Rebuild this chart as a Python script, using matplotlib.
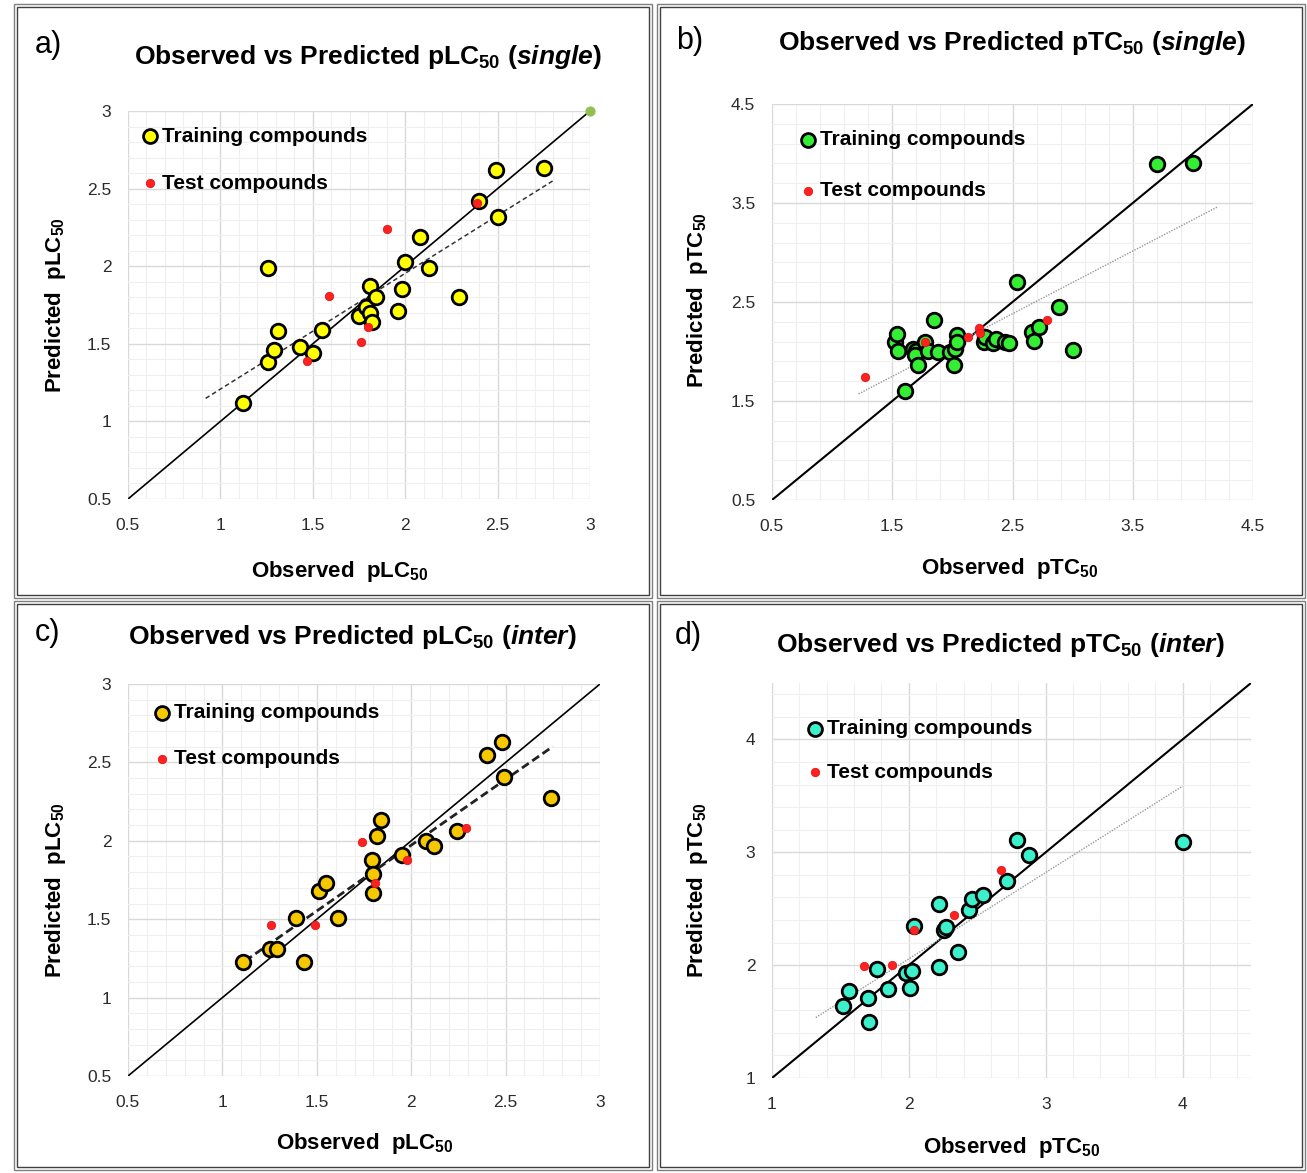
import numpy as np
import matplotlib
matplotlib.use('Agg')
import matplotlib.pyplot as plt
from matplotlib import font_manager
from matplotlib.ticker import FixedLocator, FuncFormatter
from matplotlib.patches import Rectangle

names = {f.name for f in font_manager.fontManager.ttflist}
narrow = 'Liberation Sans Narrow' if 'Liberation Sans Narrow' in names else 'Liberation Sans'

plt.rcParams['font.family'] = ['Liberation Sans', 'DejaVu Sans']
plt.rcParams['mathtext.fontset'] = 'custom'
plt.rcParams['mathtext.default'] = 'regular'
plt.rcParams['mathtext.it'] = narrow + ':italic:bold'

# ---- data ----
# a) pLC50 single
a_train_x = [1.12, 1.26, 1.26, 1.29, 1.31, 1.43, 1.50, 1.55, 1.75, 1.79, 1.81, 1.81,
             1.82, 1.84, 1.96, 1.98, 2.00, 2.08, 2.13, 2.29, 2.40, 2.49, 2.50, 2.75]
a_train_y = [1.12, 1.38, 1.99, 1.46, 1.58, 1.48, 1.44, 1.59, 1.68, 1.74, 1.87, 1.70,
             1.64, 1.80, 1.71, 1.85, 2.03, 2.19, 1.99, 1.80, 2.42, 2.62, 2.32, 2.63]
a_test_x = [1.47, 1.59, 1.76, 1.80, 1.90, 2.39]
a_test_y = [1.39, 1.81, 1.51, 1.61, 2.24, 2.41]
a_extra_x = [3.0]
a_extra_y = [3.0]
a_trend = [0.92, 2.80, 0.746, 0.462]   # x from, x to, slope, intercept
a_ticks = [0.5, 1.0, 1.5, 2.0, 2.5, 3.0]

# b) pTC50 single
b_train_x = [1.52, 1.54, 1.55, 1.61, 1.67, 1.70, 1.69, 1.71, 1.77, 1.80, 1.85, 1.88,
             1.98, 2.01, 2.02, 2.04, 2.04, 2.26, 2.27, 2.34, 2.36, 2.44, 2.47, 2.54,
             2.66, 2.68, 2.72, 2.89, 3.00, 3.70, 4.00]
b_train_y = [2.10, 2.18, 2.01, 1.60, 2.03, 2.00, 1.96, 1.86, 2.10, 2.01, 2.32, 1.99,
             1.99, 1.86, 2.03, 2.17, 2.10, 2.10, 2.15, 2.09, 2.13, 2.10, 2.09, 2.70,
             2.20, 2.11, 2.25, 2.45, 2.02, 3.89, 3.90]
b_test_x = [1.27, 1.77, 2.13, 2.22, 2.23, 2.79]
b_test_y = [1.74, 2.10, 2.15, 2.24, 2.19, 2.32]
b_trend = [1.22, 4.21, 0.633, 0.799]
b_ticks = [0.5, 1.5, 2.5, 3.5, 4.5]

# c) pLC50 inter
c_train_x = [1.11, 1.25, 1.29, 1.39, 1.43, 1.51, 1.55, 1.61, 1.79, 1.80, 1.80, 1.82,
             1.84, 1.95, 2.08, 2.12, 2.24, 2.40, 2.48, 2.49, 2.74]
c_train_y = [1.23, 1.31, 1.31, 1.51, 1.23, 1.68, 1.73, 1.51, 1.88, 1.79, 1.67, 2.03,
             2.13, 1.91, 2.00, 1.97, 2.06, 2.55, 2.63, 2.41, 2.27]
c_test_x = [1.26, 1.49, 1.74, 1.81, 1.98, 2.29]
c_test_y = [1.46, 1.46, 1.99, 1.73, 1.88, 2.08]
c_trend = [1.12, 2.75, 0.839, 0.294]
c_ticks = [0.5, 1.0, 1.5, 2.0, 2.5, 3.0]

# d) pTC50 inter
d_train_x = [1.52, 1.56, 1.70, 1.71, 1.77, 1.85, 1.98, 2.02, 2.01, 2.04, 2.22, 2.22,
             2.26, 2.27, 2.36, 2.44, 2.46, 2.54, 2.72, 2.79, 2.88, 4.00]
d_train_y = [1.64, 1.77, 1.71, 1.50, 1.97, 1.79, 1.93, 1.95, 1.80, 2.35, 1.98, 2.54,
             2.31, 2.34, 2.12, 2.49, 2.59, 2.62, 2.75, 3.11, 2.98, 3.09]
d_test_x = [1.67, 1.88, 2.04, 2.33, 2.67]
d_test_y = [1.99, 2.00, 2.31, 2.44, 2.84]
d_trend = [1.32, 4.00, 0.765, 0.526]
d_ticks = [1.0, 2.0, 3.0, 4.0]

W, H = 1307, 1173
fig = plt.figure(figsize=(W / 100, H / 100), dpi=100)


def px_box(l, t, r, b):
    return [l / W, 1 - b / H, (r - l) / W, (b - t) / H]


panels = [
    dict(letter='a)', box=px_box(128, 111, 590, 499), lim=(0.5, 3.0), ticks=a_ticks, minor=0.1,
         train=(a_train_x, a_train_y), test=(a_test_x, a_test_y), trend=a_trend,
         color='#ffff00', meas='pLC', mode='single', tstyle=dict(color='#333333', ls=(0, (3, 2)), lw=1.1),
         diag_lw=1.2, letter_xy=(48, 45), title_xy=(368, 57), xl=(340, 572), yl=(55, 305),
         frame=(14, 4, 652, 598), leg=(150, 136, 47)),
    dict(letter='b)', box=px_box(772, 104, 1253, 500), lim=(0.5, 4.5), ticks=b_ticks, minor=0.2,
         train=(b_train_x, b_train_y), test=(b_test_x, b_test_y), trend=b_trend,
         color='#33ee33', meas='pTC', mode='single', tstyle=dict(color='#999999', ls=(0, (1, 1)), lw=1.0),
         diag_lw=1.5, letter_xy=(690, 41), title_xy=(1012, 43), xl=(1010, 569), yl=(697, 300),
         frame=(657, 4, 1305, 598), leg=(808, 140, 51)),
    dict(letter='c)', box=px_box(128, 684, 600, 1076), lim=(0.5, 3.0), ticks=c_ticks, minor=0.1,
         train=(c_train_x, c_train_y), test=(c_test_x, c_test_y), trend=c_trend,
         color='#f5c800', meas='pLC', mode='inter', tstyle=dict(color='#222222', ls=(0, (3, 1.5)), lw=2.0),
         diag_lw=1.2, letter_xy=(47, 633), title_xy=(352, 637), xl=(365, 1143), yl=(55, 890),
         frame=(14, 601, 652, 1170), leg=(162, 713, 46)),
    dict(letter='d)', box=px_box(772, 683, 1251, 1078), lim=(1.0, 4.5), ticks=d_ticks, minor=0.2,
         train=(d_train_x, d_train_y), test=(d_test_x, d_test_y), trend=d_trend,
         color='#3cf0cc', meas='pTC', mode='inter', tstyle=dict(color='#999999', ls=(0, (1, 1)), lw=1.0),
         diag_lw=1.5, letter_xy=(688, 636), title_xy=(1000, 645), xl=(1012, 1147), yl=(697, 890),
         frame=(657, 601, 1305, 1170), leg=(815, 729, 43)),
]

fmt = FuncFormatter(lambda v, p: '%g' % round(v, 2))

for p in panels:
    ax = fig.add_axes(p['box'])
    lo, hi = p['lim']
    ax.set_xlim(lo, hi)
    ax.set_ylim(lo, hi)
    minors = np.arange(lo, hi + 1e-9, p['minor'])
    for axis in (ax.xaxis, ax.yaxis):
        axis.set_major_locator(FixedLocator(p['ticks']))
        axis.set_minor_locator(FixedLocator(minors))
        axis.set_major_formatter(fmt)
    ax.grid(which='major', color='#d9d9d9', lw=1.0)
    ax.grid(which='minor', color='#efefef', lw=0.8)
    ax.set_axisbelow(True)
    for s in ax.spines.values():
        s.set_visible(False)
    ax.tick_params(which='both', length=0, labelsize=12.5, colors='#2b2b2b')
    ax.tick_params(axis='x', pad=14)
    ax.tick_params(axis='y', pad=12)

    ax.plot([lo, hi], [lo, hi], color='black', lw=p['diag_lw'], zorder=2)
    x0, x1, k, c0 = p['trend']
    tx = np.array([x0, x1])
    ax.plot(tx, k * tx + c0, zorder=2.5, **p['tstyle'])

    ax.scatter(p['train'][0], p['train'][1], s=110, c=p['color'], edgecolors='black',
               linewidths=2.0, zorder=3, clip_on=False)
    ax.scatter(p['test'][0], p['test'][1], s=36, c='#ff2020', edgecolors='#e01818',
               linewidths=0.6, zorder=4, clip_on=False)
    if p['letter'] == 'a)':
        ax.scatter(a_extra_x, a_extra_y, s=40, c='#92c050', zorder=4, clip_on=False)

    # legend, drawn as marker + text in axes coordinates
    lx, ly, dy = p['leg']
    l, b, w, h = p['box']

    def to_ax(px, py):
        return ((px / W - l) / w, ((1 - py / H) - b) / h)
    mx, my = to_ax(lx, ly)
    _, my2 = to_ax(lx, ly + dy)
    ax.plot([mx], [my], 'o', ms=10, mfc=p['color'], mec='black', mew=2.0, transform=ax.transAxes, zorder=5)
    ax.plot([mx], [my2], 'o', ms=6, mfc='#ff2020', mec='#e01818', mew=0.6, transform=ax.transAxes, zorder=5)
    off = 12 / (w * W)
    ax.text(mx + off, my, 'Training compounds', transform=ax.transAxes, fontsize=15,
            fontweight='bold', va='center', ha='left')
    ax.text(mx + off, my2, 'Test compounds', transform=ax.transAxes, fontsize=15,
            fontweight='bold', va='center', ha='left')

    sub = '$_{50}$'
    xlab = ax.set_xlabel('Observed  ' + p['meas'] + sub, fontsize=16, fontweight='bold', family=narrow)
    ylab = ax.set_ylabel('Predicted  ' + p['meas'] + sub, fontsize=16, fontweight='bold', family=narrow)
    ax.xaxis.set_label_coords(*to_ax(*p['xl']))
    ax.yaxis.set_label_coords(*to_ax(*p['yl']))
    xlab.set_va('center')
    ylab.set_va('center')

    tx_, ty_ = p['title_xy']
    fig.text(tx_ / W, 1 - ty_ / H,
             'Observed vs Predicted ' + p['meas'] + sub + ' ($\\mathit{' + p['mode'] + '}$)',
             fontsize=19, fontweight='bold', family=narrow, ha='center', va='center')
    lx_, ly_ = p['letter_xy']
    fig.text(lx_ / W, 1 - ly_ / H, p['letter'], fontsize=22, family=narrow, ha='center', va='center')

    fl, ft, fr, fb = p['frame']
    for inset, col in ((0, '#7f7f7f'), (3, '#3f3f3f')):
        fig.add_artist(Rectangle(((fl + inset) / W, 1 - (fb - inset) / H),
                                 (fr - fl - 2 * inset) / W, (fb - ft - 2 * inset) / H,
                                 transform=fig.transFigure, fill=False, ec=col, lw=1.0))

fig.savefig('out.png', dpi=100, facecolor='white')
